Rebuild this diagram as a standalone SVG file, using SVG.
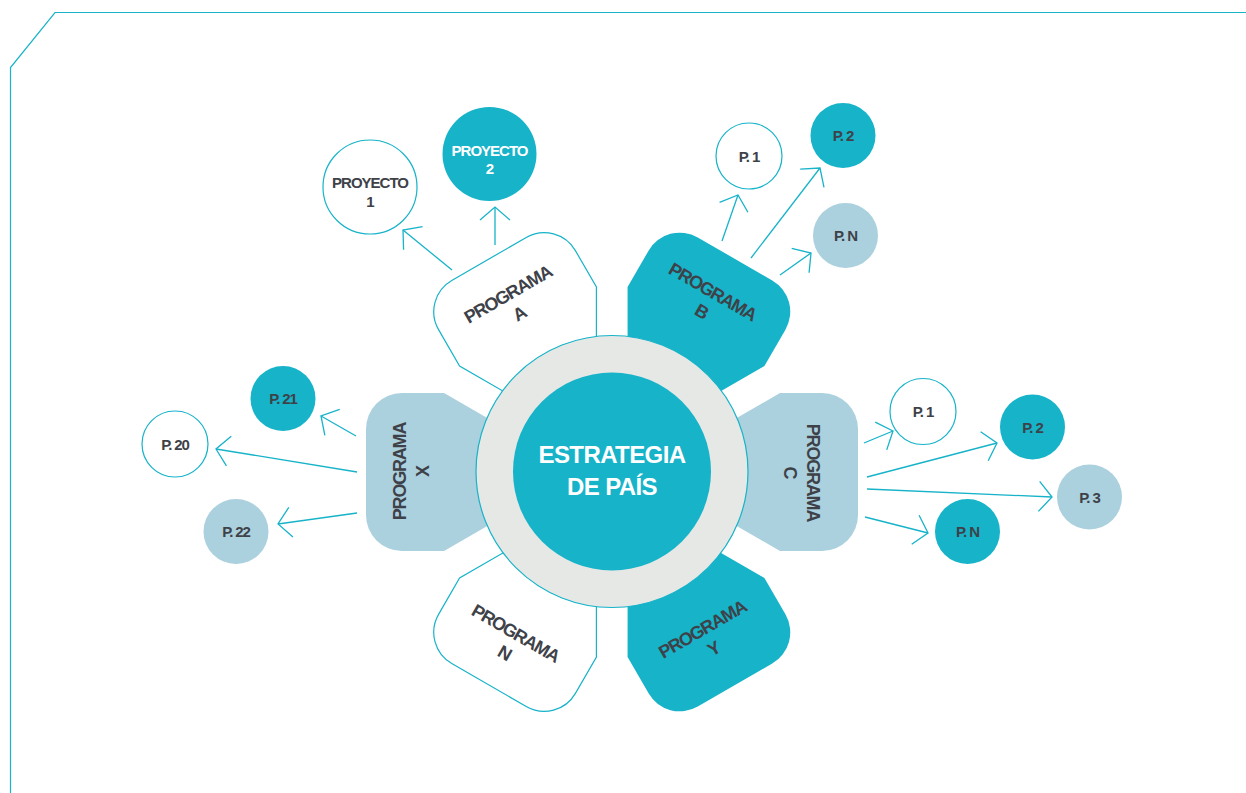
<svg xmlns="http://www.w3.org/2000/svg" width="1246" height="793" viewBox="0 0 1246 793">
<style>
.teal{fill:#16B3C9}
.lb{fill:#ABD0DE}
.wh{fill:#FFFFFF;stroke:#16B3C9;stroke-width:1.2}
.plabel{font-family:"Liberation Sans",Arial,sans-serif;font-weight:bold;font-size:18px;letter-spacing:-1.2px;fill:#3E4248;text-anchor:middle}
.clabel{font-family:"Liberation Sans",Arial,sans-serif;font-weight:bold;font-size:15px;letter-spacing:-1.1px;fill:#3E4248;text-anchor:middle}
.prlabel{font-family:"Liberation Sans",Arial,sans-serif;font-weight:bold;font-size:15px;letter-spacing:-1px;text-anchor:middle}
.conn line{stroke:#16B3C9;stroke-width:1.3;fill:none}
</style>
<defs>
<path id="petal" d="M110,-45.5 L168,-79 L210,-79 A36,36 0 0 1 246,-43 L246,43 A36,36 0 0 1 210,79 L168,79 L110,45.5 Z"/>
<marker id="arr" markerUnits="userSpaceOnUse" viewBox="-20 -20 40 40" markerWidth="40" markerHeight="40" refX="0" refY="0" orient="auto">
<path d="M-13,-15 L0,0 L-13,15" fill="none" stroke="#16B3C9" stroke-width="1.3"/>
</marker>
</defs>
<rect width="1246" height="793" fill="#FFFFFF"/>
<path d="M10.5,800 L10.5,67.5 L55,12.5 L1246,12.5" fill="none" stroke="#16B3C9" stroke-width="1.2"/>

<g class="conn">
<line x1="452" y1="270" x2="403" y2="230" marker-end="url(#arr)"/>
<line x1="495" y1="245" x2="495" y2="207" marker-end="url(#arr)"/>
<line x1="722" y1="241" x2="738" y2="195" marker-end="url(#arr)"/>
<line x1="751" y1="258" x2="820" y2="168" marker-end="url(#arr)"/>
<line x1="780" y1="275" x2="811" y2="253" marker-end="url(#arr)"/>
<line x1="864" y1="443" x2="893" y2="431" marker-end="url(#arr)"/>
<line x1="867" y1="477" x2="997" y2="443" marker-end="url(#arr)"/>
<line x1="867" y1="489" x2="1052" y2="497" marker-end="url(#arr)"/>
<line x1="865" y1="517" x2="928" y2="533" marker-end="url(#arr)"/>
<line x1="356" y1="436" x2="321" y2="416" marker-end="url(#arr)"/>
<line x1="357" y1="472" x2="216" y2="449" marker-end="url(#arr)"/>
<line x1="357" y1="513" x2="278" y2="524" marker-end="url(#arr)"/>
</g>

<g id="programa-a">
<use href="#petal" class="wh" transform="translate(612,472) rotate(-120)"/>
<text class="plabel" transform="translate(513.5,304) rotate(-30)"><tspan x="0" y="-5">PROGRAMA</tspan><tspan x="0" y="17.5">A</tspan></text>
</g>
<g id="programa-b">
<use href="#petal" class="teal" transform="translate(612,472) rotate(-60)"/>
<text class="plabel" transform="translate(707,301.5) rotate(30)"><tspan x="0" y="-5">PROGRAMA</tspan><tspan x="0" y="17.5">B</tspan></text>
</g>
<g id="programa-c">
<use href="#petal" class="lb" transform="translate(612,472)"/>
<text class="plabel" transform="translate(801.5,472.5) rotate(90)"><tspan x="0" y="-5">PROGRAMA</tspan><tspan x="0" y="17.5">C</tspan></text>
</g>
<g id="programa-y">
<use href="#petal" class="teal" transform="translate(612,472) rotate(60)"/>
<text class="plabel" transform="translate(708,639) rotate(-30)"><tspan x="0" y="-5">PROGRAMA</tspan><tspan x="0" y="17.5">Y</tspan></text>
</g>
<g id="programa-n">
<use href="#petal" class="wh" transform="translate(612,472) rotate(120)"/>
<text class="plabel" transform="translate(510,643) rotate(30)"><tspan x="0" y="-5">PROGRAMA</tspan><tspan x="0" y="17.5">N</tspan></text>
</g>
<g id="programa-x">
<use href="#petal" class="lb" transform="translate(612,472) rotate(180)"/>
<text class="plabel" transform="translate(411,471.5) rotate(-90)"><tspan x="0" y="-5">PROGRAMA</tspan><tspan x="0" y="17.5">X</tspan></text>
</g>

<g id="estrategia">
<circle cx="612" cy="471.5" r="136" fill="#E6E8E6" stroke="#16B3C9" stroke-width="1.2"/>
<circle cx="612" cy="471.5" r="99" class="teal"/>
<text font-family="Liberation Sans,Arial,sans-serif" font-weight="bold" font-size="24" letter-spacing="-0.6" fill="#FFFFFF" text-anchor="middle"><tspan x="612" y="463">ESTRATEGIA</tspan><tspan x="612" y="495">DE PAÍS</tspan></text>
</g>

<g id="proyecto-1">
<circle cx="370" cy="187" r="47" class="wh"/>
<text class="prlabel" fill="#3E4248"><tspan x="370" y="188.3">PROYECTO</tspan><tspan x="370" y="206.7">1</tspan></text>
</g>
<g id="proyecto-2">
<circle cx="489.5" cy="154" r="47" class="teal"/>
<text class="prlabel" fill="#FFFFFF"><tspan x="489.5" y="155.7">PROYECTO</tspan><tspan x="489.5" y="174">2</tspan></text>
</g>

<g id="b-p1"><circle cx="749" cy="156" r="33" class="wh"/><text class="clabel" x="749" y="161.5">P. 1</text></g>
<g id="b-p2"><circle cx="843" cy="135.5" r="32.5" class="teal"/><text class="clabel" x="843" y="141">P. 2</text></g>
<g id="b-pn"><circle cx="845.5" cy="235.5" r="32.5" class="lb"/><text class="clabel" x="845.5" y="241">P. N</text></g>

<g id="c-p1"><circle cx="923" cy="411.5" r="33" class="wh"/><text class="clabel" x="923" y="417">P. 1</text></g>
<g id="c-p2"><circle cx="1032.5" cy="427" r="32.5" class="teal"/><text class="clabel" x="1032.5" y="432.5">P. 2</text></g>
<g id="c-p3"><circle cx="1089.5" cy="497" r="32.5" class="lb"/><text class="clabel" x="1089.5" y="502.5">P. 3</text></g>
<g id="c-pn"><circle cx="967.5" cy="531.5" r="32.5" class="teal"/><text class="clabel" x="967.5" y="537">P. N</text></g>

<g id="x-p21"><circle cx="283" cy="398.5" r="32.5" class="teal"/><text class="clabel" x="283" y="404">P. 21</text></g>
<g id="x-p20"><circle cx="175" cy="444" r="33" class="wh"/><text class="clabel" x="175" y="449.5">P. 20</text></g>
<g id="x-p22"><circle cx="236" cy="531.5" r="32.5" class="lb"/><text class="clabel" x="236" y="537">P. 22</text></g>
</svg>
